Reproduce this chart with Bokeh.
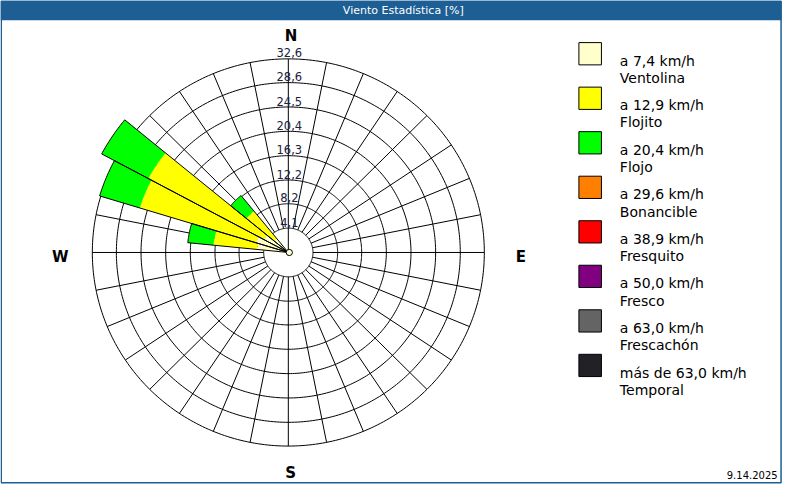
import numpy as np
from bokeh.plotting import figure
from bokeh.models import Range1d
from bokeh.embed import file_html
from bokeh.resources import INLINE
from bokeh.core.properties import value

# ---------------- data ----------------
ring_values = [4.1, 8.2, 12.2, 16.3, 20.4, 24.5, 28.6, 32.6]
ring_labels = ["4,1", "8,2", "12,2", "16,3", "20,4", "24,5", "28,6", "32,6"]

directions = [281.25, 292.5, 303.75, 315.0]      # bearing of each sector (deg)
ventolina = [5.2, 5.6, 4.6, 3.0]
flojito = [7.3, 20.2, 21.8, 6.0]
flojo = [4.3, 7.0, 8.8, 3.4]
bonancible = [0.0, 0.0, 0.0, 0.0]
fresquito = [0.0, 0.0, 0.0, 0.0]
fresco = [0.0, 0.0, 0.0, 0.0]
frescachon = [0.0, 0.0, 0.0, 0.0]
temporal = [0.0, 0.0, 0.0, 0.0]

class_ranges = ["a 7,4 km/h", "a 12,9 km/h", "a 20,4 km/h", "a 29,6 km/h",
                "a 38,9 km/h", "a 50,0 km/h", "a 63,0 km/h", "más de 63,0 km/h"]
class_names = ["Ventolina", "Flojito", "Flojo", "Bonancible",
               "Fresquito", "Fresco", "Frescachón", "Temporal"]
class_colors = ["#ffffcc", "#ffff00", "#00ff00", "#ff8000",
                "#ff0000", "#800080", "#646464", "#222226"]
class_values = [ventolina, flojito, flojo, bonancible, fresquito, fresco, frescachon, temporal]

compass = ["N", "E", "S", "W"]
title_text = "Viento Estadística [%]"
date_text = "9.14.2025"

# ---------------- layout ----------------
CX, CY, R = 293.7, 260.3, 200.0
SCALE = R / ring_values[-1]
HALF = 5.625
BLUE = "#1d5e94"
FONT = value("DejaVu Sans")


def pol(b_deg, r):
    b = np.radians(b_deg)
    return CX + r * np.sin(b), CY - r * np.cos(b)


p = figure(width=784, height=484, x_range=Range1d(0, 800), y_range=Range1d(500, 0),
           output_backend="svg", toolbar_location=None, min_border=0)
p.axis.visible = False
p.grid.visible = False
p.outline_line_color = None
p.background_fill_color = "white"
p.border_fill_color = "white"

# title bar
p.quad(left=[0], right=[797], top=[0], bottom=[20.5], fill_color=BLUE, line_color=None)
p.text(x=[411], y=[10.5], text=[title_text], text_color="white", text_font=FONT,
       text_font_size="11px", text_align="center", text_baseline="middle")

# rings
t = np.linspace(0, 360, 361)
rxs, rys = [], []
for v in ring_values:
    x, y = pol(t, v * SCALE)
    rxs.append(list(x)); rys.append(list(y))
p.multi_line(rxs, rys, line_color="black", line_width=1)

# spokes
hub = ring_values[0] * SCALE
sxs, sys_ = [], []
for k in range(32):
    b = k * 11.25
    r0 = 0 if k == 0 else hub
    x0, y0 = pol(b, r0)
    x1, y1 = pol(b, R)
    sxs.append([x0, x1]); sys_.append([y0, y1])
p.multi_line(sxs, sys_, line_color="black", line_width=1)

# wedges
pxs, pys, pcols = [], [], []
oxs, oys = [], []
for i, d in enumerate(directions):
    cum = 0.0
    a = np.linspace(d - HALF, d + HALF, 24)
    for c, vals in enumerate(class_values):
        v = vals[i]
        if v <= 0:
            continue
        r0, r1 = cum * SCALE, (cum + v) * SCALE
        xo, yo = pol(a, r1)
        if r0 == 0:
            xi, yi = [CX], [CY]
        else:
            xi, yi = pol(a[::-1], r0)
        pxs.append(list(xo) + list(xi)); pys.append(list(yo) + list(yi))
        pcols.append(class_colors[c])
        cum += v
    xo, yo = pol(a, cum * SCALE)
    oxs.append([CX] + list(xo) + [CX]); oys.append([CY] + list(yo) + [CY])
p.patches(pxs, pys, fill_color=pcols, line_color=None)
p.patches(oxs, oys, fill_color=None, line_color="black", line_width=1)

# calm dot
p.circle(x=[CX + 1], y=[CY], radius=3.2, fill_color="#ffffcc", line_color="black", line_width=1)

# ring labels
p.text(x=[CX + 1] * len(ring_values), y=[CY - v * SCALE - 1.5 for v in ring_values], text=ring_labels,
       text_color="#20203a", text_font=FONT, text_font_size="11.5px",
       text_align="center", text_baseline="bottom")

# compass labels
cpos = {"N": (296.5, 36.5), "E": (531, 264.5), "S": (296, 488), "W": (61, 264.5)}
p.text(x=[cpos[c][0] for c in compass], y=[cpos[c][1] for c in compass], text=compass,
       text_color="black", text_font=FONT, text_font_style="bold", text_font_size="15px",
       text_align="center", text_baseline="middle")

# legend
ly = [55 + 46 * i for i in range(len(class_names))]
p.rect(x=[601.7] * len(ly), y=ly, width=23, height=23, fill_color=class_colors,
       line_color="black", line_width=1)
p.text(x=[632] * len(ly), y=[v + 7.3 for v in ly], text=class_ranges, text_color="black",
       text_font=FONT, text_font_size="14px", text_align="left", text_baseline="alphabetic")
p.text(x=[632] * len(ly), y=[v + 25 for v in ly], text=class_names, text_color="black",
       text_font=FONT, text_font_size="14px", text_align="left", text_baseline="alphabetic")

# date
p.text(x=[793], y=[490], text=[date_text], text_color="black", text_font=FONT,
       text_font_size="10px", text_align="right", text_baseline="middle")

# border
p.quad(left=[0.75], right=[796.5], top=[0.75], bottom=[498.3], fill_color=None,
       line_color=BLUE, line_width=1.5)

open("out.html", "w").write(file_html(p, INLINE))
